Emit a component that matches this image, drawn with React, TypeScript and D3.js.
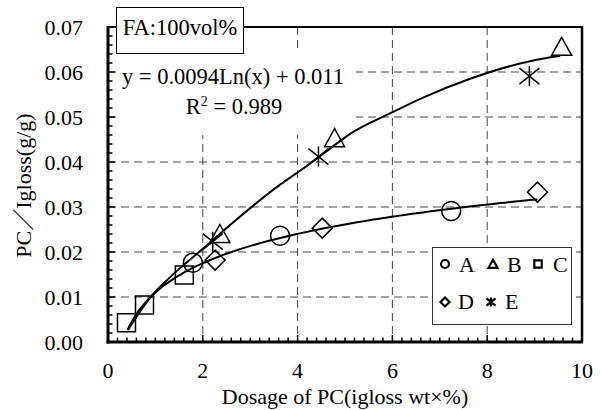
import React from 'react';
import * as d3 from 'd3';

// ---- data ----
const xTicks = [0, 2, 4, 6, 8, 10];
const xTickLabels = ['0', '2', '4', '6', '8', '10'];
const yTicks = [0, 0.01, 0.02, 0.03, 0.04, 0.05, 0.06, 0.07];
const yTickLabels = ['0.00', '0.01', '0.02', '0.03', '0.04', '0.05', '0.06', '0.07'];

const seriesNames = ['A', 'B', 'C', 'D', 'E'];
const seriesShapes = ['circle', 'triangle', 'square', 'diamond', 'star'];
const aX = [1.79, 3.63, 7.24];
const aY = [0.0176, 0.0236, 0.0291];
const bX = [2.36, 4.78, 9.57];
const bY = [0.024, 0.0453, 0.0656];
const cX = [0.39, 0.77, 1.61];
const cY = [0.0043, 0.0082, 0.0149];
const dX = [2.26, 4.52, 9.06];
const dY = [0.0182, 0.0253, 0.0333];
const eX = [2.21, 4.44, 8.89];
const eY = [0.0223, 0.0412, 0.0591];

// upper fitted curve
const upperX = [0.42, 0.9, 1.3, 2.0, 2.6, 3.42, 4.44, 4.65, 5.1, 5.95, 6.6, 7.64, 8.9, 9.54];
const upperY = [0.0027, 0.01, 0.0143, 0.0207, 0.0262, 0.0333, 0.041, 0.0427, 0.0462, 0.0508, 0.0541, 0.0585, 0.0624, 0.0636];

// lower log trendline (equation printed on the chart)
const trendA = 0.0094;
const trendB = 0.011;
const trendXStart = 0.415;
const trendXEnd = 9.06;

const equationText = 'y = 0.0094Ln(x) + 0.011';
const r2Text = '0.989';
const boxTitle = 'FA:100vol%';
const xTitle = 'Dosage of PC(igloss wt\u00d7%)';
const yTitle = 'PC\uff0fIgloss(g/g)';

const FONT = '"Liberation Serif", "Times New Roman", "Noto Sans CJK JP", serif';

function markerPath(shape: string, cx: number, cy: number, s: number): string {
  const p = d3.path();
  if (shape === 'circle') {
    p.moveTo(cx + s, cy);
    p.arc(cx, cy, s, 0, Math.PI * 2);
  } else if (shape === 'square') {
    p.rect(cx - s, cy - s, 2 * s, 2 * s);
  } else if (shape === 'triangle') {
    p.moveTo(cx, cy - s * 0.95);
    p.lineTo(cx + s, cy + s * 0.85);
    p.lineTo(cx - s, cy + s * 0.85);
    p.closePath();
  } else if (shape === 'diamond') {
    p.moveTo(cx, cy - s);
    p.lineTo(cx + s, cy);
    p.lineTo(cx, cy + s);
    p.lineTo(cx - s, cy);
    p.closePath();
  } else if (shape === 'star') {
    p.moveTo(cx, cy - s);
    p.lineTo(cx, cy + s);
    p.moveTo(cx - s, cy - s * 0.8);
    p.lineTo(cx + s, cy + s * 0.8);
    p.moveTo(cx + s, cy - s * 0.8);
    p.lineTo(cx - s, cy + s * 0.8);
  }
  return p.toString();
}

export default function App() {
  const W = 602;
  const H = 410;
  const x = d3.scaleLinear().domain([0, 10]).range([108, 582]);
  const y = d3.scaleLinear().domain([0, 0.07]).range([342, 27]);
  const [x0, x1] = x.range();
  const [y0, y1] = y.range();

  const seriesX = [aX, bX, cX, dX, eX];
  const seriesY = [aY, bY, cY, dY, eY];

  const line = d3
    .line<[number, number]>()
    .x((d) => x(d[0]))
    .y((d) => y(d[1]))
    .curve(d3.curveMonotoneX);

  const upperPts: [number, number][] = upperX.map((v, i) => [v, upperY[i]]);
  const lowerPts: [number, number][] = d3
    .range(0, 101)
    .map((i) => trendXStart + ((trendXEnd - trendXStart) * i) / 100)
    .map((v) => [v, trendA * Math.log(v) + trendB]);

  const xMinor = d3.range(0, 50).map((i) => i * 0.2).filter((v) => v > 0);
  const yMinor = d3.range(0, 35).map((i) => i * 0.002).filter((v) => v > 0);

  const legendItems = [
    { name: seriesNames[0], shape: seriesShapes[0], mx: 445, my: 264, tx: 459, ty: 272 },
    { name: seriesNames[1], shape: seriesShapes[1], mx: 493, my: 264, tx: 507, ty: 272 },
    { name: seriesNames[2], shape: seriesShapes[2], mx: 538, my: 264, tx: 553, ty: 272 },
    { name: seriesNames[3], shape: seriesShapes[3], mx: 445, my: 302, tx: 458, ty: 309 },
    { name: seriesNames[4], shape: seriesShapes[4], mx: 491, my: 302, tx: 505, ty: 309 },
  ];

  return (
    <svg
      width={W}
      height={H}
      style={{ position: 'absolute', left: 0, top: 0, background: '#fff' }}
      fontFamily={FONT}
    >
      <rect x={0} y={0} width={W} height={H} fill="#fff" />
      {/* grid */}
      <g stroke="#444" strokeWidth={1} strokeDasharray="8,5">
        {xTicks.slice(1, -1).map((t) => (
          <line key={'gx' + t} x1={x(t)} x2={x(t)} y1={y1} y2={y0} />
        ))}
        {yTicks.slice(1, -1).map((t) => (
          <line key={'gy' + t} x1={x0} x2={x1} y1={y(t)} y2={y(t)} />
        ))}
      </g>

      {/* equation background */}
      <rect x={116} y={53} width={240} height={82} fill="#fff" />
      <text x={233} y={84} fontSize={22.5} textAnchor="middle" fill="#000">
        {equationText}
      </text>
      <text x={234} y={114} fontSize={22.5} textAnchor="middle" fill="#000">
        R<tspan fontSize={14} dy={-8}>2</tspan>
        <tspan dy={8}> = {r2Text}</tspan>
      </text>

      {/* frame */}
      <rect x={x0} y={y1} width={x1 - x0} height={y0 - y1} fill="none" stroke="#000" strokeWidth={2} />
      <line x1={x0} x2={x0} y1={y1 - 1} y2={y0 + 1.5} stroke="#000" strokeWidth={3} />
      <line x1={x0 - 1.5} x2={x1 + 1} y1={y0} y2={y0} stroke="#000" strokeWidth={3} />
      <line x1={x1} x2={x1} y1={y1 - 1} y2={y0} stroke="#000" strokeWidth={2.5} />

      {/* ticks */}
      <g stroke="#000" strokeWidth={1.5}>
        {xMinor.map((t) => {
          const major = Math.abs(t / 2 - Math.round(t / 2)) < 1e-6;
          return <line key={'xt' + t} x1={x(t)} x2={x(t)} y1={y0} y2={y0 - (major ? 7 : 4.5)} />;
        })}
        {yMinor.map((t) => {
          const major = Math.abs(t / 0.01 - Math.round(t / 0.01)) < 1e-6;
          return <line key={'yt' + t} x1={x0} x2={x0 + (major ? 7 : 4.5)} y1={y(t)} y2={y(t)} />;
        })}
      </g>

      {/* tick labels */}
      {xTicks.map((t, i) => (
        <text key={'xl' + t} x={x(t)} y={378} fontSize={22} textAnchor="middle" fill="#000">
          {xTickLabels[i]}
        </text>
      ))}
      {yTicks.map((t, i) => (
        <text key={'yl' + t} x={83} y={y(t) + 8} fontSize={22} textAnchor="end" fill="#000">
          {yTickLabels[i]}
        </text>
      ))}

      {/* axis titles */}
      <text x={(x0 + x1) / 2} y={404} fontSize={22} textAnchor="middle" fill="#000">
        {xTitle}
      </text>
      <text
        transform={`translate(31,${(y0 + y1) / 2 + 1}) rotate(-90)`}
        fontSize={22}
        textAnchor="middle"
        fill="#000"
      >
        {yTitle}
      </text>

      {/* FA box */}
      <rect x={116.5} y={7.5} width={127} height={46} fill="#fff" stroke="#000" strokeWidth={1} />
      <text x={180} y={35} fontSize={22.5} textAnchor="middle" fill="#000">
        {boxTitle}
      </text>

      {/* markers */}
      <g fill="none" stroke="#000" strokeWidth={1.5}>
        {seriesX.map((xs, si) =>
          xs.map((v, i) => (
            <path
              key={'m' + si + '-' + i}
              d={markerPath(seriesShapes[si], x(v), y(seriesY[si][i]), seriesShapes[si] === 'circle' ? 9.5 : seriesShapes[si] === 'square' ? 9 : 10)}
            />
          ))
        )}
      </g>

      {/* trend lines */}
      <path d={line(lowerPts) || ''} fill="none" stroke="#000" strokeWidth={2} />
      <path d={line(upperPts) || ''} fill="none" stroke="#000" strokeWidth={2} />

      {/* legend */}
      <rect x={432.5} y={247.5} width={139} height={77} fill="#fff" stroke="#333" strokeWidth={1} />
      {legendItems.map((it) => (
        <g key={'lg' + it.name}>
          <path
            d={markerPath(it.shape, it.mx, it.my, it.shape === 'circle' ? 4 : it.shape === 'square' ? 3.7 : 4.5)}
            fill="none"
            stroke="#000"
            strokeWidth={2.2}
          />
          <text x={it.tx} y={it.ty} fontSize={22} fill="#000">
            {it.name}
          </text>
        </g>
      ))}
    </svg>
  );
}
